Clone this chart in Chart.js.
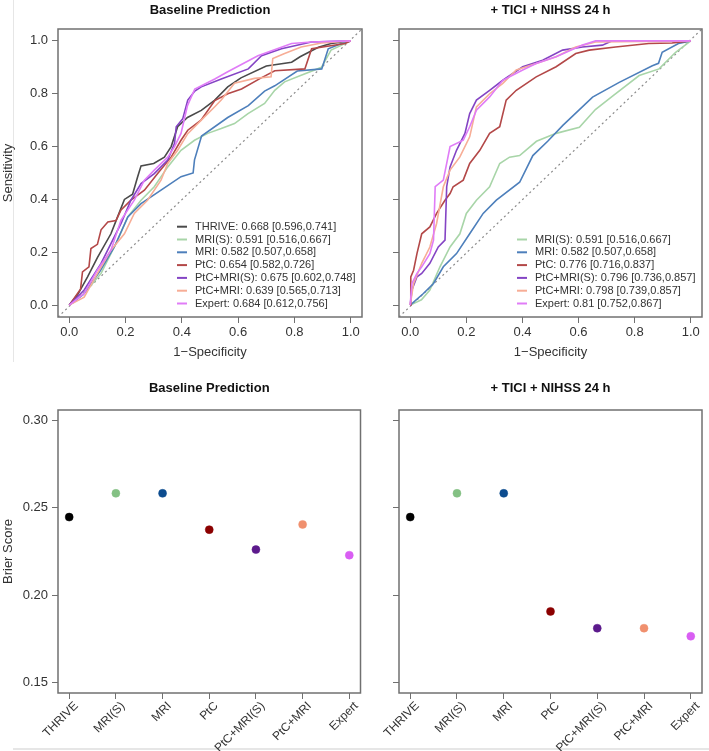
<!DOCTYPE html>
<html>
<head>
<meta charset="utf-8">
<script src="https://cdn.jsdelivr.net/npm/chart.js@4.4.0/dist/chart.umd.min.js"></script>
<style>
    body { margin: 0; background: #fff; width: 709px; height: 751px; position: relative; overflow: hidden; }
    canvas { position: absolute; }
    .edge { position: absolute; background: #e6e6e6; }
</style>
</head>
<body>
<div class="edge" style="left:13px;top:0;width:1px;height:362px"></div>
<div class="edge" style="left:13px;top:748px;width:696px;height:2px"></div>
<canvas id="rocBase" width="365" height="370" style="left:0;top:0"></canvas>
<canvas id="rocTici" width="354" height="370" style="left:355px;top:0"></canvas>
<canvas id="brierBaseChart" width="365" height="381" style="left:0;top:370px"></canvas>
<canvas id="brierTiciChart" width="354" height="381" style="left:355px;top:370px"></canvas>
<script>
// ---- data ----
const models = ['THRIVE', 'MRI(S)', 'MRI', 'PtC', 'PtC+MRI(S)', 'PtC+MRI', 'Expert'];
const brierBase = [0.2447, 0.2583, 0.2583, 0.2375, 0.2261, 0.2405, 0.2229];
const brierTici = [0.2447, 0.2583, 0.2583, 0.1907, 0.1811, 0.1811, 0.1765];
const brierTicks = [0.15, 0.20, 0.25, 0.30];
const rocTicks = [0, 0.2, 0.4, 0.6, 0.8, 1.0];

const baseAuc = ['THRIVE: 0.668 [0.596,0.741]', 'MRI(S): 0.591 [0.516,0.667]', 'MRI: 0.582 [0.507,0.658]',
    'PtC: 0.654 [0.582,0.726]', 'PtC+MRI(S): 0.675 [0.602,0.748]', 'PtC+MRI: 0.639 [0.565,0.713]',
    'Expert: 0.684 [0.612,0.756]'];
const ticiAuc = ['MRI(S): 0.591 [0.516,0.667]', 'MRI: 0.582 [0.507,0.658]', 'PtC: 0.776 [0.716,0.837]',
    'PtC+MRI(S): 0.796 [0.736,0.857]', 'PtC+MRI: 0.798 [0.739,0.857]', 'Expert: 0.81 [0.752,0.867]'];

// ROC curves, [1-specificity, sensitivity]
const baseThrive = [[0,0],[0.03,0.04],[0.065,0.107],[0.1,0.18],[0.148,0.27],[0.172,0.335],[0.196,0.4],[0.225,0.42],[0.243,0.486],[0.255,0.527],[0.3,0.536],[0.338,0.56],[0.362,0.6],[0.385,0.675],[0.42,0.71],[0.469,0.737],[0.516,0.775],[0.563,0.826],[0.61,0.86],[0.7,0.905],[0.79,0.919],[0.82,0.94],[0.885,0.976],[0.93,0.99],[1,1]];
const baseMriS = [[0,0],[0.053,0.044],[0.113,0.12],[0.172,0.246],[0.208,0.334],[0.255,0.397],[0.302,0.448],[0.35,0.523],[0.397,0.586],[0.445,0.624],[0.492,0.65],[0.54,0.668],[0.587,0.687],[0.635,0.725],[0.694,0.763],[0.73,0.813],[0.765,0.845],[0.824,0.87],[0.896,0.9],[0.93,0.965],[1,1]];
const baseMri = [[0,0],[0.05,0.04],[0.11,0.13],[0.16,0.22],[0.208,0.334],[0.255,0.384],[0.326,0.435],[0.397,0.486],[0.44,0.5],[0.445,0.55],[0.47,0.64],[0.563,0.71],[0.636,0.755],[0.694,0.81],[0.73,0.83],[0.81,0.886],[0.897,0.894],[0.92,0.97],[0.967,0.99],[1,1]];
const basePtc = [[0,0],[0.04,0.06],[0.047,0.126],[0.07,0.145],[0.077,0.214],[0.1,0.23],[0.113,0.285],[0.137,0.315],[0.166,0.32],[0.184,0.36],[0.219,0.397],[0.267,0.435],[0.314,0.498],[0.362,0.56],[0.397,0.624],[0.421,0.662],[0.468,0.7],[0.517,0.774],[0.563,0.8],[0.612,0.818],[0.682,0.86],[0.73,0.887],[0.837,0.894],[0.861,0.97],[0.98,0.99],[1,1]];
const basePtcMriS = [[0,0],[0.053,0.057],[0.113,0.158],[0.148,0.233],[0.184,0.309],[0.219,0.397],[0.255,0.46],[0.302,0.498],[0.35,0.549],[0.374,0.612],[0.38,0.675],[0.403,0.705],[0.421,0.776],[0.446,0.81],[0.469,0.826],[0.54,0.856],[0.636,0.894],[0.683,0.944],[0.754,0.97],[0.86,0.996],[1,1]];
const basePtcMri = [[0,0],[0.053,0.03],[0.1,0.12],[0.148,0.208],[0.196,0.27],[0.231,0.347],[0.278,0.397],[0.326,0.473],[0.35,0.536],[0.385,0.586],[0.421,0.649],[0.469,0.7],[0.516,0.75],[0.54,0.776],[0.587,0.84],[0.658,0.858],[0.717,0.864],[0.723,0.933],[0.765,0.952],[0.824,0.977],[0.896,0.992],[1,1]];
const baseExpert = [[0,0],[0.053,0.044],[0.1,0.133],[0.148,0.208],[0.184,0.322],[0.231,0.397],[0.267,0.473],[0.302,0.511],[0.35,0.56],[0.374,0.6],[0.397,0.65],[0.42,0.755],[0.446,0.818],[0.517,0.856],[0.563,0.883],[0.67,0.944],[0.79,0.99],[0.86,0.996],[1,1]];

const ticiMriS = [[0,0],[0.04,0.02],[0.07,0.057],[0.106,0.145],[0.142,0.22],[0.177,0.27],[0.2,0.347],[0.236,0.397],[0.283,0.448],[0.319,0.536],[0.354,0.56],[0.39,0.566],[0.45,0.62],[0.52,0.65],[0.603,0.673],[0.66,0.74],[0.72,0.79],[0.816,0.869],[0.887,0.894],[0.946,0.957],[1,1]];
const ticiMri = [[0,0],[0.047,0.044],[0.083,0.082],[0.118,0.145],[0.165,0.195],[0.212,0.27],[0.26,0.347],[0.307,0.397],[0.39,0.465],[0.437,0.566],[0.49,0.62],[0.544,0.68],[0.65,0.787],[0.745,0.843],[0.863,0.906],[0.885,0.915],[0.898,0.957],[0.956,0.99],[1,1]];
const ticiPtc = [[0,0],[0.002,0.107],[0.012,0.132],[0.024,0.195],[0.041,0.27],[0.07,0.296],[0.094,0.347],[0.124,0.397],[0.142,0.422],[0.153,0.448],[0.189,0.473],[0.212,0.536],[0.248,0.586],[0.283,0.65],[0.319,0.675],[0.342,0.776],[0.378,0.813],[0.449,0.864],[0.52,0.902],[0.59,0.952],[0.638,0.965],[0.732,0.977],[0.85,0.99],[0.933,0.992],[1,1]];
const ticiPtcMriS = [[0,0],[0.006,0.057],[0.024,0.107],[0.041,0.12],[0.07,0.158],[0.1,0.22],[0.124,0.246],[0.13,0.448],[0.142,0.523],[0.165,0.586],[0.195,0.65],[0.212,0.725],[0.236,0.776],[0.283,0.813],[0.33,0.851],[0.401,0.902],[0.472,0.927],[0.543,0.965],[0.614,0.977],[0.685,0.984],[0.72,1],[1,1]];
const ticiPtcMri = [[0,0],[0.012,0.082],[0.041,0.158],[0.07,0.22],[0.094,0.309],[0.118,0.448],[0.142,0.511],[0.177,0.561],[0.212,0.637],[0.236,0.75],[0.283,0.8],[0.33,0.839],[0.378,0.89],[0.449,0.914],[0.52,0.94],[0.59,0.977],[0.661,0.996],[1,1]];
const ticiExpert = [[0,0],[0.006,0.082],[0.024,0.12],[0.041,0.145],[0.07,0.195],[0.083,0.246],[0.089,0.448],[0.118,0.473],[0.142,0.6],[0.189,0.624],[0.212,0.675],[0.236,0.738],[0.283,0.788],[0.33,0.851],[0.401,0.89],[0.449,0.914],[0.52,0.94],[0.614,0.984],[0.661,1],[1,1]];

// colours per model
const lineColors = ['#4a4a4a', '#a8d5a8', '#4d7fbb', '#b34848', '#8444c4', '#f7ad96', '#e07cf7'];
const dotColors = ['#000000', '#84c184', '#0d4c8f', '#8b0000', '#5c1a8c', '#f0906e', '#d95ef3'];

// ---- setup ----
Chart.defaults.font.family = "'Liberation Sans', Arial, sans-serif";
Chart.defaults.font.size = 13;
Chart.defaults.color = '#222';

const boxPlugin = {
    id: 'box',
    afterDatasetsDraw(chart) {
        const a = chart.chartArea, ctx = chart.ctx;
        ctx.save();
        ctx.strokeStyle = '#707070';
        ctx.lineWidth = 1.5;
        ctx.strokeRect(a.left, a.top, a.right - a.left, a.bottom - a.top);
        ctx.restore();
    }
};

const rocLegend = {
    id: 'rocLegend',
    afterDraw(chart) {
        const a = chart.chartArea, ctx = chart.ctx;
        const ds = chart.data.datasets.filter(d => d.legendText);
        const n = ds.length;
        ctx.save();
        ctx.font = "11px 'Liberation Sans', Arial, sans-serif";
        ctx.textBaseline = 'middle';
        ds.forEach((d, i) => {
            const y = a.bottom - 13.5 - (n - 1 - i) * 12.8;
            ctx.strokeStyle = d.borderColor;
            ctx.lineWidth = 2;
            ctx.beginPath();
            ctx.moveTo(a.right - 185, y);
            ctx.lineTo(a.right - 175, y);
            ctx.stroke();
            ctx.fillStyle = '#333';
            ctx.fillText(d.legendText, a.right - 167, y);
        });
        ctx.restore();
    }
};

function tickGrid() {
    return { display: true, drawOnChartArea: false, drawTicks: true, tickLength: 6, color: '#707070', lineWidth: 1 };
}

function makeRoc(id, curves, labels, colorIdx, yAxisWidth, padRight, showYLabels) {
    const datasets = [{
        data: [{x: -0.04, y: -0.045}, {x: 1.04, y: 1.045}],
        borderColor: '#8a8a8a', borderWidth: 1.2, borderDash: [2, 3],
        pointRadius: 0, order: 100
    }];
    curves.forEach((c, i) => {
        datasets.push({
            data: c.map(p => ({x: p[0], y: p[1]})),
            legendText: labels[i],
            borderColor: lineColors[colorIdx[i]],
            borderWidth: 1.6,
            pointRadius: 0,
            order: curves.length - i
        });
    });
    return new Chart(document.getElementById(id), {
        type: 'line',
        data: { datasets },
        plugins: [boxPlugin, rocLegend],
        options: {
            responsive: false,
            animation: false,
            layout: { padding: { left: 0, right: padRight, top: 0, bottom: 0 } },
            plugins: {
                legend: { display: false },
                tooltip: { enabled: false },
                title: {
                    display: true, fullSize: false,
                    text: id === 'rocBase' ? 'Baseline Prediction' : '+ TICI + NIHSS 24 h',
                    font: { size: 13, weight: 'bold' }, color: '#111',
                    padding: { top: 3, bottom: 10.4 }
                }
            },
            scales: {
                x: {
                    type: 'linear', min: -0.04, max: 1.04,
                    afterBuildTicks: s => { s.ticks = rocTicks.map(v => ({value: v})); },
                    afterFit: s => { s.height = 53; },
                    border: { display: false },
                    grid: tickGrid(),
                    ticks: { padding: 2, color: '#333', maxRotation: 0, callback: v => v.toFixed(1) },
                    title: { display: true, text: '1\u2212Specificity', color: '#333', padding: { top: 10, bottom: 10 } }
                },
                y: {
                    type: 'linear', min: -0.045, max: 1.045,
                    afterBuildTicks: s => { s.ticks = rocTicks.map(v => ({value: v})); },
                    afterFit: s => { s.width = yAxisWidth; },
                    border: { display: false },
                    grid: tickGrid(),
                    ticks: { display: showYLabels, padding: 4, color: '#333', callback: v => v.toFixed(1) },
                    title: { display: showYLabels, text: 'Sensitivity', color: '#333', padding: { top: 1, bottom: 1 } }
                }
            }
        }
    });
}

function makeBrier(id, title, values, yAxisWidth, padRight, showYLabels) {
    return new Chart(document.getElementById(id), {
        type: 'scatter',
        data: {
            datasets: [{
                data: values.map((v, i) => ({x: i + 1, y: v})),
                pointRadius: 4,
                pointBackgroundColor: dotColors,
                pointBorderColor: dotColors,
                pointBorderWidth: 0.5
            }]
        },
        plugins: [boxPlugin],
        options: {
            responsive: false,
            animation: false,
            layout: { padding: { left: 0, right: padRight, top: 0, bottom: 0 } },
            plugins: {
                legend: { display: false },
                tooltip: { enabled: false },
                title: {
                    display: true, fullSize: false, text: title,
                    font: { size: 13, weight: 'bold' }, color: '#111',
                    padding: { top: 10.2, bottom: 14.2 }
                }
            },
            scales: {
                x: {
                    type: 'linear', min: 0.76, max: 7.24,
                    afterBuildTicks: s => { s.ticks = models.map((m, i) => ({value: i + 1})); },
                    afterFit: s => { s.height = 58; },
                    border: { display: false },
                    grid: tickGrid(),
                    ticks: { padding: 0, labelOffset: 7, color: '#333', font: { size: 12 },
                        minRotation: 45, maxRotation: 45, autoSkip: false,
                        callback: v => models[v - 1] }
                },
                y: {
                    type: 'linear', min: 0.144, max: 0.306,
                    afterBuildTicks: s => { s.ticks = brierTicks.map(v => ({value: v})); },
                    afterFit: s => { s.width = yAxisWidth; },
                    border: { display: false },
                    grid: tickGrid(),
                    ticks: { display: showYLabels, padding: 4, color: '#333', callback: v => v.toFixed(2) },
                    title: { display: showYLabels, text: 'Brier Score', color: '#333', padding: { top: 1, bottom: 1 } }
                }
            }
        }
    });
}

makeRoc('rocBase', [baseThrive, baseMriS, baseMri, basePtc, basePtcMriS, basePtcMri, baseExpert],
    baseAuc, [0, 1, 2, 3, 4, 5, 6], 58, 3, true);
makeRoc('rocTici', [ticiMriS, ticiMri, ticiPtc, ticiPtcMriS, ticiPtcMri, ticiExpert],
    ticiAuc, [1, 2, 3, 4, 5, 6], 44, 7, false);
makeBrier('brierBaseChart', 'Baseline Prediction', brierBase, 58, 3, true);
makeBrier('brierTiciChart', '+ TICI + NIHSS 24 h', brierTici, 44, 7, false);
</script>
</body>
</html>
